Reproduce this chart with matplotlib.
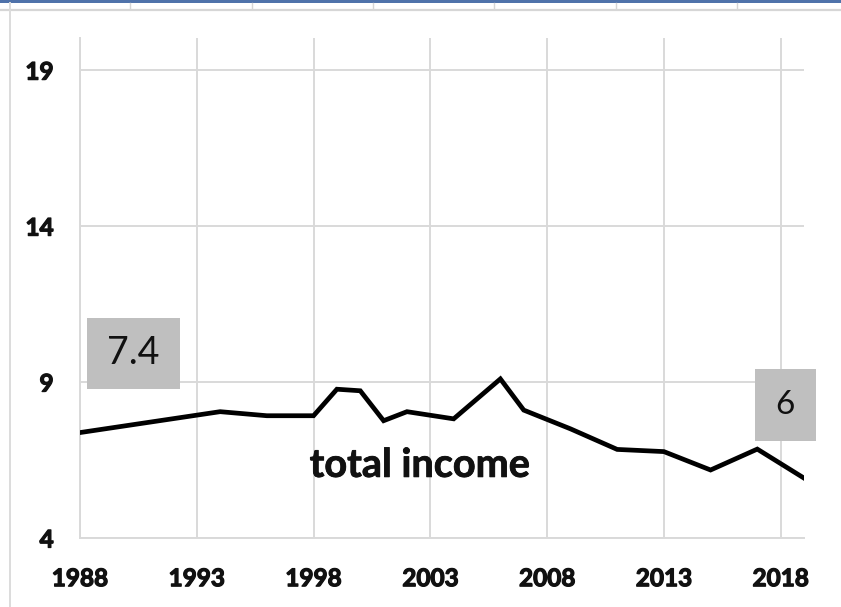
import matplotlib
matplotlib.use("Agg")
import matplotlib.pyplot as plt
import matplotlib.patheffects as pe
from matplotlib.patches import Rectangle
from matplotlib.lines import Line2D

# ---- data ----
years = [1988, 1994, 1996, 1998, 1999, 2000, 2001, 2002, 2004, 2006, 2007,
         2009, 2011, 2013, 2015, 2017, 2019]
total_income = [7.38, 8.05, 7.92, 7.92, 8.77, 8.72, 7.76, 8.05, 7.82, 9.1, 8.1,
                7.5, 6.84, 6.77, 6.18, 6.85, 5.92]
x_ticks = [1988, 1993, 1998, 2003, 2008, 2013, 2018]
y_ticks = [4, 9, 14, 19]
series_label = "total income"
start_label = "7.4"
end_label = "6"

W, H = 841, 607
fig = plt.figure(figsize=(W / 100, H / 100), dpi=100)
fig.patch.set_facecolor("white")

# spreadsheet-like frame decorations
fig.patches.append(Rectangle((0, 1 - 3 / H), 1, 3 / H, transform=fig.transFigure,
                             facecolor="#4f72aa", edgecolor="none"))
fig.lines.append(Line2D([0, 1], [1 - 9.5 / H] * 2, transform=fig.transFigure,
                        color="#d6d6d6", lw=1.6))
for sx in [130, 252, 373, 494, 616, 737]:
    fig.lines.append(Line2D([sx / W] * 2, [1 - 3 / H, 1 - 9 / H], transform=fig.transFigure,
                            color="#d6d6d6", lw=1.0))
fig.lines.append(Line2D([10 / W] * 2, [0, 1 - 3 / H], transform=fig.transFigure,
                        color="#dcdcdc", lw=1.4))

ax = fig.add_axes([80 / W, 1 - 538 / H, (804 - 80) / W, (538 - 38) / H])
ax.set_xlim(1988, 2019)
ax.set_ylim(4, 20.03)

ax.plot(years, total_income, color="black", lw=3.4, solid_joinstyle="miter", zorder=3)

ax.set_xticks(x_ticks)
ax.set_yticks(y_ticks)
ax.grid(True, color="#d9d9d9", lw=1.4)
ax.set_axisbelow(True)
for s in ["top", "right"]:
    ax.spines[s].set_visible(False)
for s in ["left", "bottom"]:
    ax.spines[s].set_color("#d9d9d9")
    ax.spines[s].set_linewidth(1.4)
ax.tick_params(length=0)
ax.tick_params(axis="y", pad=19)
ax.tick_params(axis="x", pad=21)
for lab in ax.get_xticklabels() + ax.get_yticklabels():
    lab.set_fontfamily("Lato")
    lab.set_fontweight("bold")
    lab.set_fontsize(17.5)
    lab.set_color("#111111")
    lab.set_path_effects([pe.withStroke(linewidth=0.9, foreground="#111111")])

# annotation boxes
ax.add_patch(Rectangle((1988.3, 8.78), 4.0, 2.27, facecolor="#bfbfbf", edgecolor="none",
                       zorder=4, clip_on=False))
ax.text(1990.3, 9.93, start_label, ha="center", va="center", fontsize=27,
        family="Lato", color="#111111", zorder=5)
ax.add_patch(Rectangle((2016.9, 7.11), 2.6, 2.31, facecolor="#bfbfbf", edgecolor="none",
                       zorder=4, clip_on=False))
ax.text(2018.2, 8.26, end_label, ha="center", va="center", fontsize=24,
        family="Lato", color="#111111", zorder=5, clip_on=False)

ax.text(2002.56, 5.96, series_label, ha="center", va="baseline", fontsize=28.5,
        family="Lato", fontweight="bold", color="#111111", zorder=5,
        path_effects=[pe.withStroke(linewidth=0.6, foreground="#111111")])

fig.savefig("out.png", dpi=100)
